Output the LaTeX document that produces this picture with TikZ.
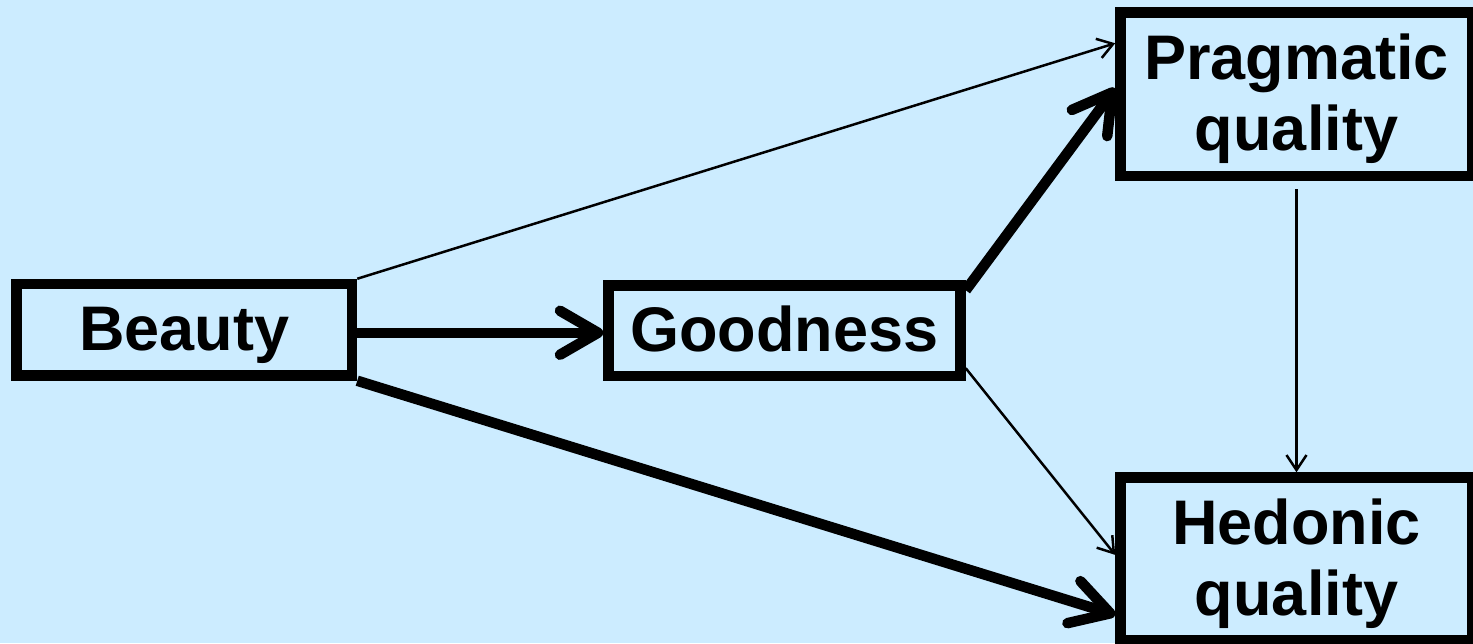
\documentclass[tikz,border=0pt]{standalone}
\usepackage{fontspec}
\setmainfont{Liberation Sans}
\usetikzlibrary{arrows.meta}
\definecolor{bg}{RGB}{204,236,255}
\begin{document}
\begin{tikzpicture}[x=1pt,y=-1pt,
  box/.style={draw=black, line width=10.5pt, inner sep=0pt, font=\fontsize{63}{71}\selectfont\bfseries},
  thickarrow/.style={line width=10.5pt, -{Straight Barb[length=38pt,width=44pt,round]}},
  thinarrow/.style={line width=2.5pt, -{Straight Barb[length=15pt,width=20pt]}}]
\fill[bg] (0,0) rectangle (1473,643);
\useasboundingbox (0,0) rectangle (1473,643);
\node[box, minimum width=335.5pt, minimum height=91.5pt, text height=45pt, text depth=3pt] (beauty) at (184.25,329.75) {Beauty};
\node[box, minimum width=352pt, minimum height=90.5pt, text height=45pt, text depth=3pt] (good) at (784.5,330.75) {Goodness};
\node[box, align=center, minimum width=352pt, minimum height=163.5pt, text height=124.5pt, text depth=13pt] (prag) at (1296.5,94.25) {Pragmatic\\quality};
\node[box, align=center, minimum width=352pt, minimum height=162.75pt, text height=125.2pt, text depth=13pt] (hed) at (1296.5,558.9) {Hedonic\\quality};
\draw[thinarrow] (beauty.north east) -- ([yshift=51pt]prag.west);
\draw[thickarrow] ([yshift=-3pt]beauty.east) -- ([yshift=-2pt]good.west);
\draw[thickarrow] (beauty.south east) -- ([yshift=-56pt]hed.west);
\draw[thickarrow] ([yshift=-10pt]good.north east) -- ([yshift=6pt]prag.west);
\draw[thinarrow] ([yshift=13pt]good.south east) -- ([yshift=4pt]hed.west);
\draw[thinarrow, shorten <=8pt] (prag.south) -- (hed.north);
\end{tikzpicture}
\end{document}
